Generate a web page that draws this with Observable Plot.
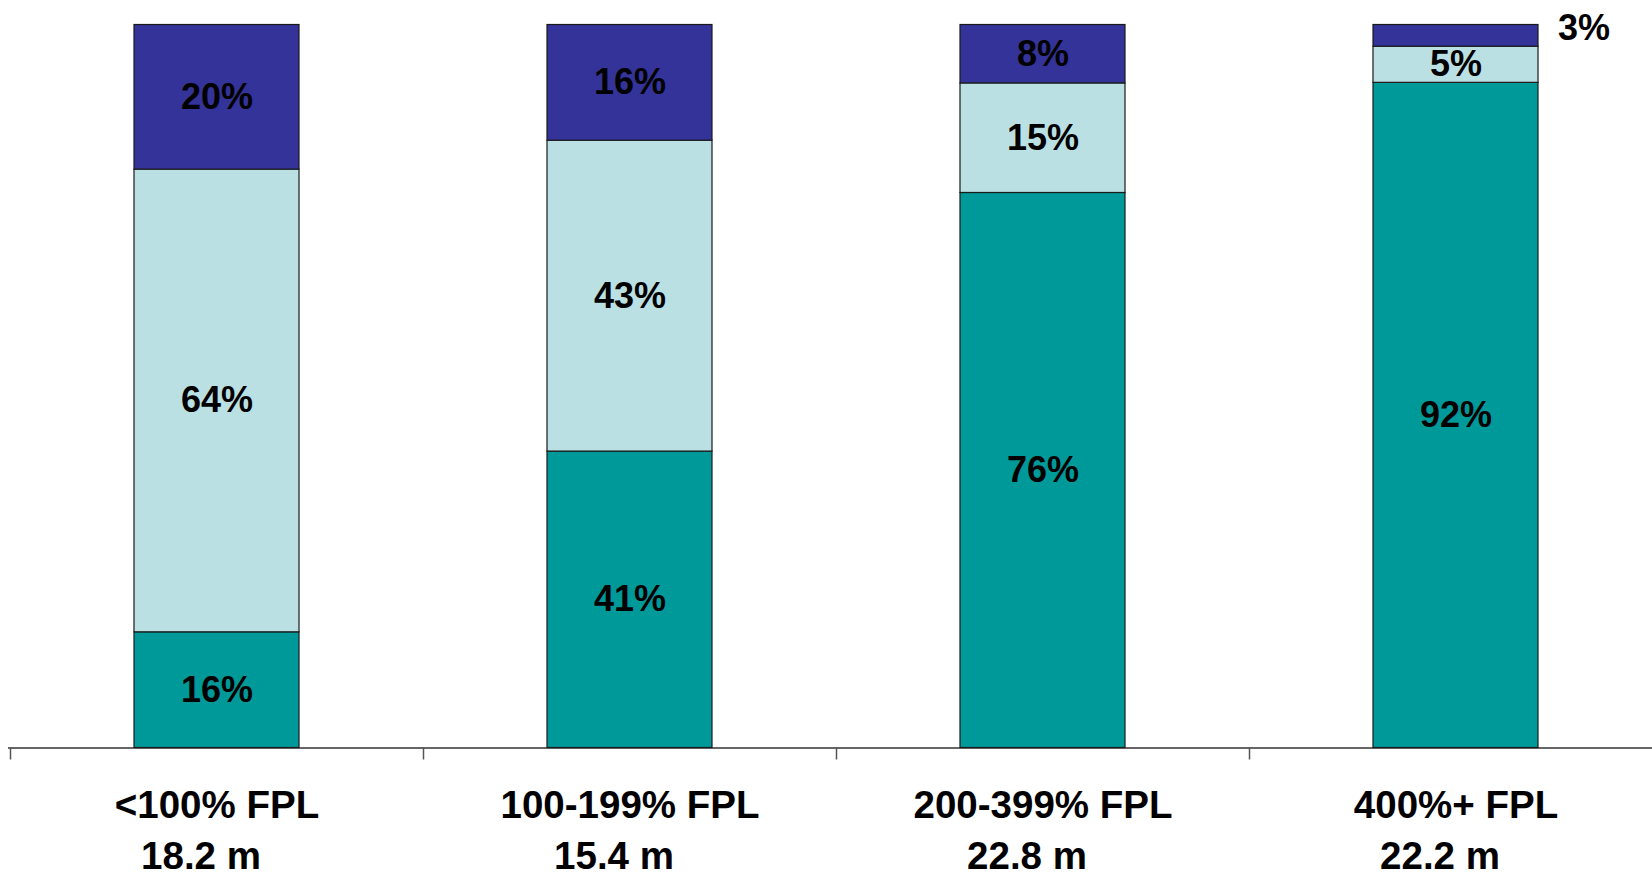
<!DOCTYPE html>
<html>
<head>
<meta charset="utf-8">
<script src="https://cdn.jsdelivr.net/npm/d3@7"></script>
<script src="https://cdn.jsdelivr.net/npm/@observablehq/plot@0.6"></script>
<style>
  html, body { margin: 0; padding: 0; background: #fff; overflow: hidden; }
  #chart svg { display: block; }
</style>
</head>
<body>
<div id="chart"></div>
<script>
// ---- Data ----
const categories = ["<100% FPL", "100-199% FPL", "200-399% FPL", "400%+ FPL"];
const populations = ["18.2 m", "15.4 m", "22.8 m", "22.2 m"];
const seriesNames = ["Bottom segment", "Middle segment", "Top segment"];
const bottomValues = [16, 41, 76, 92];
const middleValues = [64, 43, 15, 5];
const topValues = [20, 16, 8, 3];
const seriesColors = ["#009999", "#BBE0E3", "#333399"];

// table built from the arrays (stack order: bottom, middle, top)
const seriesValues = [bottomValues, middleValues, topValues];
const data = [];
categories.forEach((c, i) => {
  seriesNames.forEach((s, j) => {
    data.push({category: c, series: s, value: seriesValues[j][i]});
  });
});

const W = 1652, H = 873;
const xRange = [10.5, 1662.5];
const step = (xRange[1] - xRange[0]) / categories.length;
const font = "'Liberation Sans', Arial, Helvetica, sans-serif";
const isOutside = d => d.value < 4;

const chart = Plot.plot({
  width: W,
  height: H,
  marginTop: 24.5,
  marginBottom: 125.5,
  marginLeft: 0,
  marginRight: 0,
  style: {fontFamily: font, background: "#fff"},
  x: {domain: categories, range: xRange, paddingInner: 0.6, paddingOuter: 0.3, axis: null},
  y: {domain: [0, 1], axis: null},
  color: {domain: seriesNames, range: seriesColors},
  marks: [
    Plot.ruleY([0], {stroke: "#333", strokeWidth: 1.5, insetLeft: 8}),
    Plot.ruleX(categories, {x: d => d, y1: 0, y2: 0, dx: -step / 2, insetBottom: -12, stroke: "#555", strokeWidth: 1.5}),
    Plot.barY(data, Plot.stackY({
      x: "category", y: "value", fill: "series", offset: "normalize",
      stroke: "#1a1a1a", strokeWidth: 1.2
    })),
    Plot.text(data, Plot.stackY({
      x: "category", y: "value", offset: "normalize",
      text: d => isOutside(d) ? "" : d.value + "%",
      fontSize: 36, fontWeight: "bold", fill: "#000"
    })),
    Plot.text(data, Plot.stackY2({
      x: "category", y: "value", offset: "normalize",
      text: d => isOutside(d) ? d.value + "%" : "",
      fontSize: 36, fontWeight: "bold", fill: "#000", dx: 128, dy: 3
    })),
    Plot.text(categories, {x: d => d, y: 0, text: d => d, dy: 58, fontSize: 38.5, fontWeight: "bold", fill: "#000"}),
    Plot.text(categories, {x: d => d, y: 0, text: (d, i) => populations[i], dy: 109, dx: -16, fontSize: 38.5, fontWeight: "bold", fill: "#000"})
  ]
});
document.getElementById("chart").appendChild(chart);
</script>
</body>
</html>
